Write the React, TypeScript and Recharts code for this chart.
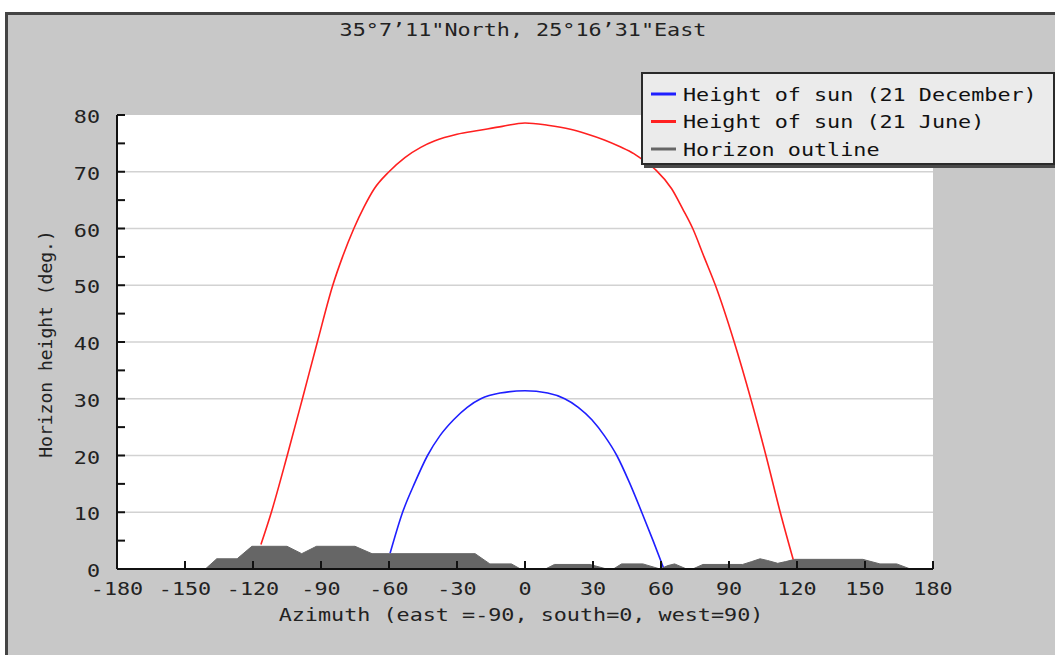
import React from 'react';
import { ComposedChart, Line, Area, XAxis, YAxis, CartesianGrid, ReferenceLine, Legend } from 'recharts';

const TITLE = '35°7’11"North, 25°16’31"East';
const X_TITLE = 'Azimuth (east =-90, south=0, west=90)';
const Y_TITLE = 'Horizon height (deg.)';

const xTicks = [-180, -150, -120, -90, -60, -30, 0, 30, 60, 90, 120, 150, 180];
const yTicks = [0, 5, 10, 15, 20, 25, 30, 35, 40, 45, 50, 55, 60, 65, 70, 75, 80];
const gridValues = [10, 20, 30, 40, 50, 60, 70];

// horizon outline (azimuth, height)
const horizonAz = [-141, -136, -127, -120.5, -105, -98.5, -92, -75, -67.5, -22, -15.5, -6, -2, 9, 13, 28.7, 36, 39, 42.6, 52, 59.6, 63, 66, 71.3, 74, 78.5, 96, 100, 103.7, 107, 111.5, 115, 119, 149, 156.6, 164, 170];
const horizonH = [0, 1.8, 1.8, 4.0, 4.0, 2.7, 4.0, 4.0, 2.7, 2.7, 0.9, 0.9, 0, 0, 0.8, 0.8, 0, 0, 0.9, 0.9, 0, 0.6, 0.9, 0, 0, 0.8, 0.8, 1.3, 1.8, 1.5, 1.0, 1.3, 1.7, 1.7, 0.9, 0.9, 0];

// 21 December sun path
const decAz = [-59.5, -54, -48.5, -43, -37.5, -31.5, -25.5, -19.5, -11, 0, 10, 17.5, 23.5, 29.5, 35, 40.5, 46, 51.5, 56.5, 61];
const decH = [2.8, 10, 15.3, 20, 23.5, 26.3, 28.5, 30, 31, 31.4, 31, 30, 28.5, 26.3, 23.5, 20, 15.3, 10, 5, 0.3];

// 21 June sun path
const junAz = [-116.5, -111.9, -104.9, -98.2, -91.6, -84.8, -80.5, -75.5, -71, -66.5, -60, -53, -46, -40, -30, -20, -10, 0, 10, 20, 27, 35, 42, 48, 53, 58, 64.7, 69.5, 74, 79, 84, 92.3, 99.6, 106.3, 112.6, 118.3];
const junH = [4.3, 10, 20, 30, 40, 50, 55, 60, 63.8, 67, 70, 72.5, 74.3, 75.4, 76.6, 77.3, 78, 78.6, 78.2, 77.5, 76.7, 75.6, 74.4, 73.2, 71.8, 70.2, 67, 63.5, 60, 55, 50, 40, 30, 20, 10, 1.7];

const horizonData = horizonAz.map((az, i) => ({ az, h: horizonH[i] }));
const decData = decAz.map((az, i) => ({ az, h: decH[i] }));
const junData = junAz.map((az, i) => ({ az, h: junH[i] }));

const FONT = 'DejaVu Sans Mono';
const CHAR_W = 13.1;

function XTick({ x, y, payload }: any) {
  const label = String(payload.value);
  return (
    <g>
      <line x1={x} y1={y} x2={x} y2={y - 8} stroke="#111" strokeWidth={2} />
      <text x={x} y={y + 26} textAnchor="middle" fontFamily={FONT} fontSize={18} fill="#222"
        textLength={label.length * CHAR_W} lengthAdjust="spacingAndGlyphs">{label}</text>
    </g>
  );
}

function YTick({ x, y, payload }: any) {
  const v = payload.value;
  const label = String(v);
  return (
    <g>
      <line x1={x} y1={y} x2={x + 8} y2={y} stroke="#111" strokeWidth={2} />
      {v % 10 === 0 && (
        <text x={x - 17} y={y + 8} textAnchor="end" fontFamily={FONT} fontSize={18} fill="#222"
          textLength={label.length * CHAR_W} lengthAdjust="spacingAndGlyphs">{label}</text>
      )}
    </g>
  );
}

function XTitle() {
  return (
    <text x={521} y={621} textAnchor="middle" fontFamily={FONT} fontSize={18} fill="#222"
      textLength={X_TITLE.length * CHAR_W} lengthAdjust="spacingAndGlyphs">{X_TITLE}</text>
  );
}

function YTitle() {
  return (
    <text transform="translate(52,344) rotate(-90)" textAnchor="middle" fontFamily={FONT} fontSize={18} fill="#222">
      {Y_TITLE}
    </text>
  );
}

function SunLegend({ payload }: any) {
  return (
    <div style={{ boxSizing: 'border-box', width: 414, height: 93, background: '#ebebeb', border: '2px solid #2a2a2a', boxShadow: '3px 3px 0 #4a4a4a' }}>
      <svg width={410} height={89} style={{ display: 'block' }}>
        {(payload || []).map((p: any, i: number) => (
          <g key={p.value}>
            <line x1={8} x2={33} y1={20 + i * 27.5} y2={20 + i * 27.5} stroke={p.color} strokeWidth={3} />
            <text x={40} y={26.5 + i * 27.5} fontFamily={FONT} fontSize={18} fill="#111"
              textLength={String(p.value).length * CHAR_W} lengthAdjust="spacingAndGlyphs">{p.value}</text>
          </g>
        ))}
      </svg>
    </div>
  );
}

export default function App() {
  return (
    <div style={{ position: 'absolute', left: 0, top: 0, width: 1055, height: 655, background: '#fff', overflow: 'hidden' }}>
      <div style={{ position: 'absolute', left: 5, top: 12, width: 1060, height: 660, background: '#c8c8c8', borderLeft: '3px solid #444', borderTop: '3px solid #444' }} />
      <svg width={1055} height={60} style={{ position: 'absolute', left: 0, top: 0 }}>
        <text x={523} y={36} textAnchor="middle" fontFamily={FONT} fontSize={18} fill="#222"
          textLength={28 * CHAR_W} lengthAdjust="spacingAndGlyphs">{TITLE}</text>
      </svg>
      <div style={{ position: 'absolute', left: 0, top: 0 }}>
        <ComposedChart width={1055} height={655} margin={{ top: 115, right: 122, bottom: 56, left: 57 }}>
          <CartesianGrid fill="#ffffff" horizontal={false} vertical={false} />
          {gridValues.map((v) => (
            <ReferenceLine key={v} y={v} stroke="#d2d2d2" strokeWidth={1.5} />
          ))}
          <XAxis type="number" dataKey="az" domain={[-180, 180]} ticks={xTicks} interval={0}
            allowDataOverflow tickSize={0} tickMargin={0} tick={<XTick />} tickLine={false}
            axisLine={{ stroke: '#111', strokeWidth: 2 }} height={30} label={<XTitle />} />
          <YAxis type="number" domain={[0, 80]} ticks={yTicks} interval={0} allowDataOverflow
            tickSize={0} tickMargin={0} tick={<YTick />} tickLine={false}
            axisLine={{ stroke: '#111', strokeWidth: 2 }} width={60} label={<YTitle />} />
          <Area data={horizonData} dataKey="h" name="Horizon outline" type="linear" fill="#666666"
            fillOpacity={1} stroke="#666666" strokeWidth={1} dot={false} activeDot={false} isAnimationActive={false} />
          <Line data={decData} dataKey="h" name="Height of sun (21 December)" type="monotone" stroke="#1f1fff"
            strokeWidth={1.6} dot={false} activeDot={false} isAnimationActive={false} />
          <Line data={junData} dataKey="h" name="Height of sun (21 June)" type="monotone" stroke="#ff2020"
            strokeWidth={1.6} dot={false} activeDot={false} isAnimationActive={false} />
          <Legend content={<SunLegend />} layout="vertical" align="center" verticalAlign="middle"
            wrapperStyle={{ left: 641, top: 72, width: 414, height: 93 }} />
        </ComposedChart>
      </div>
    </div>
  );
}
